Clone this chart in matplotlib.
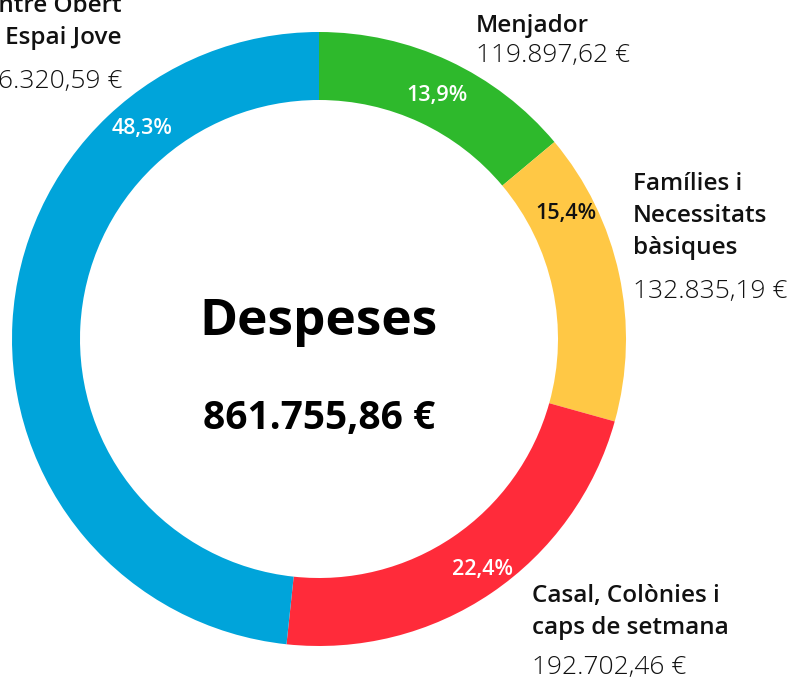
import matplotlib
matplotlib.use("Agg")
import matplotlib.pyplot as plt
import numpy as np

# ---- data ----
categories = ["Menjador", "Famílies i\nNecessitats\nbàsiques", "Casal, Colònies i\ncaps de setmana", "Centre Obert\ni Espai Jove"]
values = [119897.62, 132835.19, 192702.46, 416320.59]
value_labels = ["119.897,62 €", "132.835,19 €", "192.702,46 €", "416.320,59 €"]
pct_labels = ["13,9%", "15,4%", "22,4%", "48,3%"]
title = "Despeses"
total_label = "861.755,86 €"

# ---- style ----
colors = ["#2EB92C", "#FFC845", "#FF2B3A", "#00A4DA"]
pct_colors = ["white", "#111111", "white", "white"]
FONT = ["Open Sans", "DejaVu Sans"]

W, H = 792, 679
fig = plt.figure(figsize=(W / 100, H / 100), dpi=100)
ax = fig.add_axes([0, 0, 1, 1])

cx, cy = 319, H - 339
R, width = 307, 68
ax.pie(values, colors=colors, startangle=90, counterclock=False,
       center=(cx, cy), radius=R,
       wedgeprops=dict(width=width, linewidth=0))
ax.set_xlim(0, W)
ax.set_ylim(0, H)
ax.set_aspect("auto")
ax.axis("off")

# percentage labels placed on the ring
pct_angles = [64.2, 27.0, -54.6, 130.0]
pct_radii = [271, 277, 283, 275]
for lab, ang, rr, col in zip(pct_labels, pct_angles, pct_radii, pct_colors):
    a = np.deg2rad(ang)
    ax.text(cx + rr * np.cos(a), cy + rr * np.sin(a), lab, ha="center", va="center",
            fontsize=15.5, color=col, fontweight="semibold", family=FONT)

# category labels (name lines + value)
lab_pos = [  # x, name baseline(img y), value baseline(img y), align
    (476, 32, 62, "left"),
    (633, 190, 298, "left"),
    (532, 602, 674, "left"),
    (122, 12, 88, "right"),
]
line_gap = 32
for name, val, (x, yb, yv, ha) in zip(categories, value_labels, lab_pos):
    for i, line in enumerate(name.split("\n")):
        ax.text(x, H - (yb + i * line_gap), line, ha=ha, va="baseline",
                fontsize=17.5, color="#111111", fontweight="semibold", family=FONT)
    ax.text(x, H - yv, val, ha=ha, va="baseline",
            fontsize=19, color="#111111", fontweight="light", family=FONT)

# center text
ax.text(cx, H - 335, title, ha="center", va="baseline", fontsize=37,
        fontweight="bold", color="black", family=FONT)
ax.text(cx, H - 429, total_label, ha="center", va="baseline", fontsize=28,
        fontweight="bold", color="black", family=FONT)

fig.savefig("out.png", dpi=100, facecolor="white")
